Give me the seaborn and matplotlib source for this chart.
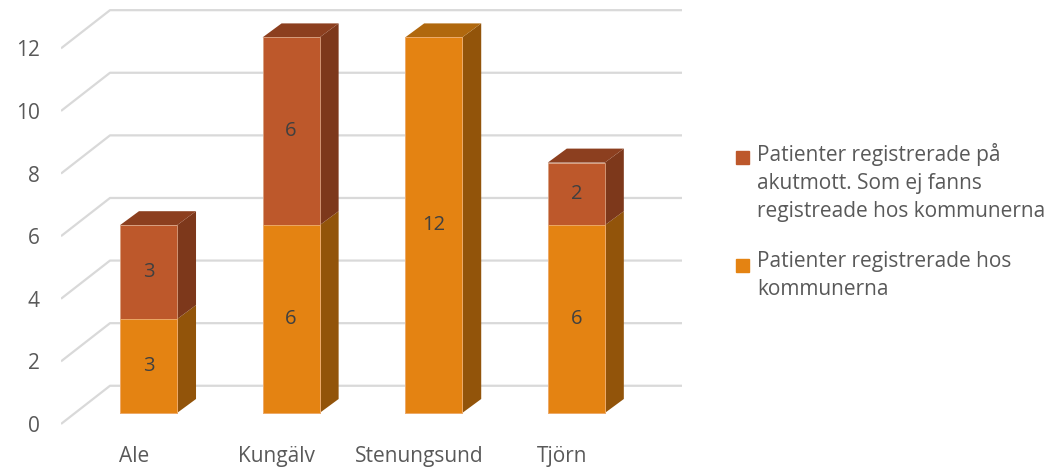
import numpy as np
import matplotlib
matplotlib.use("Agg")
import matplotlib.pyplot as plt
from matplotlib.patches import Rectangle
import seaborn as sns

# ---- data ----
categories = ["Ale", "Kungälv", "Stenungsund", "Tjörn"]
kommun = [3, 6, 12, 6]          # Patienter registrerade hos kommunerna
akut = [3, 6, 0, 2]             # Patienter registrerade på akutmott. ...
y_ticks = [0, 2, 4, 6, 8, 10, 12]
legend_labels = [
    "Patienter registrerade på\nakutmott. Som ej fanns\nregistreade hos kommunerna",
    "Patienter registrerade hos\nkommunerna",
]

# ---- style ----
sns.set_theme(style="white")
plt.rcParams["font.family"] = ["Open Sans", "DejaVu Sans"]

RED_FRONT, RED_SIDE, RED_TOP = "#BD582B", "#7D381B", "#8C3F1F"
ORG_FRONT, ORG_SIDE, ORG_TOP = "#E48312", "#92540A", "#B0680E"
GRID = "#D9D9D9"
TXT = "#595959"
LBL = "#404040"
FS = 15

W, H = 1050, 476
fig = plt.figure(figsize=(W / 100, H / 100), dpi=100)
ax_l, ax_r, ax_t, ax_b = 61, 700, 0, 440
ax = fig.add_axes([ax_l / W, (H - ax_b) / H, (ax_r - ax_l) / W, (ax_b - ax_t) / H])

totals = [k + a for k, a in zip(kommun, akut)]
bw = 0.4
sns.barplot(x=categories, y=totals, color=RED_FRONT, saturation=1, width=bw,
            errorbar=None, ax=ax, zorder=3, linewidth=0.6, edgecolor="#D9A080")
sns.barplot(x=categories, y=kommun, color=ORG_FRONT, saturation=1, width=bw,
            errorbar=None, ax=ax, zorder=3, linewidth=0.6, edgecolor="#F0B070")

# axis mapping: px per category, px per unit
px_cat, px_unit = 142.6, 31.3
x0_px, y0_px = 148.5, 413
ax.set_xlim((ax_l - x0_px) / px_cat, (ax_r - x0_px) / px_cat)
ax.set_ylim((y0_px - ax_b) / px_unit, (y0_px - ax_t) / px_unit)

# depth offsets (3D effect)
ddx = 19 / px_cat
ddy = 14 / px_unit

# perspective gridlines
front_off = -0.35
back_off = 0.87
x_front = (61 - x0_px) / px_cat
x_back = (110 - x0_px) / px_cat
x_end = (682 - x0_px) / px_cat
for v in y_ticks:
    ax.plot([x_front, x_back, x_end], [v + front_off, v + back_off, v + back_off],
            color=GRID, lw=1.6, zorder=0, solid_capstyle="butt")

# side and top faces + labels
for i in range(len(categories)):
    left = i - bw / 2
    right = i + bw / 2
    segs = [(0, kommun[i], ORG_SIDE, ORG_TOP), (kommun[i], kommun[i] + akut[i], RED_SIDE, RED_TOP)]
    segs = [s for s in segs if s[1] > s[0]]
    for j, (b, t, cs, ct) in enumerate(segs):
        ax.fill([right, right + ddx, right + ddx, right],
                [b, b + ddy, t + ddy, t], color=cs, zorder=2, lw=0)
        if j == len(segs) - 1:
            ax.fill([left, left + ddx, right + ddx, right],
                    [t, t + ddy, t + ddy, t], color=ct, zorder=2, lw=0)
        ax.text(i, (b + t) / 2, f"{t - b}", ha="center", va="center",
                fontsize=14.5, color=LBL, zorder=5)

# ticks
ax.set_yticks(np.array(y_ticks) + front_off, labels=[str(v) for v in y_ticks])
ax.set_xticks(np.arange(len(categories)) - 0.1, labels=categories)
ax.tick_params(axis="y", length=0, pad=15.5, labelsize=FS, labelcolor=TXT)
ax.tick_params(axis="x", length=0, pad=4, labelsize=FS, labelcolor=TXT)
ax.set_xlabel("")
ax.set_ylabel("")
for s in ax.spines.values():
    s.set_visible(False)
ax.set_facecolor("white")
ax.grid(False)

# legend (manual)
entries = [(RED_FRONT, legend_labels[0], 151, 142.5), (ORG_FRONT, legend_labels[1], 259, 250.5)]
for col, lab, ysq, ytxt in entries:
    fig.patches.append(Rectangle((736 / W, 1 - (ysq + 13) / H), 13 / W, 13 / H,
                                 transform=fig.transFigure, color=col))
    fig.text(757 / W, 1 - ytxt / H, lab, ha="left", va="top",
             fontsize=FS, color=TXT, linespacing=1.45)

fig.savefig("out.png", dpi=100, facecolor="white")
